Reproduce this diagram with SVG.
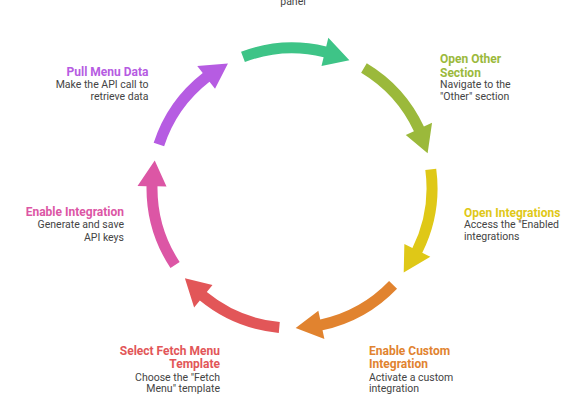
<svg xmlns="http://www.w3.org/2000/svg" xmlns:xlink="http://www.w3.org/1999/xlink" width="588" height="400" viewBox="0 0 588 400">
<style>
text{font-family:Roboto,"Liberation Sans",sans-serif}
.t{font-size:12px;font-weight:bold}
.d{font-size:10.5px;fill:#444444}
.s{text-anchor:start}
.e{text-anchor:end}
.m{text-anchor:middle}
</style>
<defs>
<path id="arw" d="M145.5,0 A145.5,145.5 0 0 1 120.49,81.57 L127.94,86.61 L99.51,98.48 L103.93,70.36 L111.38,75.40 A134.5,134.5 0 0 0 134.5,0 Z"/>
</defs>
<rect width="588" height="400" fill="#ffffff"/>
<g id="step-green">
<use xlink:href="#arw" href="#arw" fill="#3EC487" transform="translate(292,188) rotate(249.5)"/>
<text class="d m" x="293" y="4.5">panel</text>
</g>
<g id="step-open-other">
<use xlink:href="#arw" href="#arw" fill="#9BB93B" transform="translate(292,188) rotate(300.93)"/>
<text class="t s" fill="#9BB93B" x="440" y="62.7">Open Other</text>
<text class="t s" fill="#9BB93B" x="440" y="76.5">Section</text>
<text class="d s" x="440" y="88.3">Navigate to the</text>
<text class="d s" x="440" y="100">"Other" section</text>
</g>
<g id="step-open-integrations">
<use xlink:href="#arw" href="#arw" fill="#DFC817" transform="translate(292,188) rotate(352.36)"/>
<text class="t s" fill="#DFC817" x="464" y="216.7">Open Integrations</text>
<text class="d s" x="464" y="228.3">Access the "Enabled</text>
<text class="d s" x="464" y="240">integrations</text>
</g>
<g id="step-enable-custom">
<use xlink:href="#arw" href="#arw" fill="#E1832F" transform="translate(292,188) rotate(43.79)"/>
<text class="t s" fill="#E1832F" x="369" y="354.8">Enable Custom</text>
<text class="t s" fill="#E1832F" x="369" y="368.4">Integration</text>
<text class="d s" x="369" y="380.6">Activate a custom</text>
<text class="d s" x="369" y="392.3">integration</text>
</g>
<g id="step-select-template">
<use xlink:href="#arw" href="#arw" fill="#E25658" transform="translate(292,188) rotate(95.21)"/>
<text class="t e" fill="#E25658" x="220" y="354.6">Select Fetch Menu</text>
<text class="t e" fill="#E25658" x="220" y="368.3">Template</text>
<text class="d e" x="220" y="380.6">Choose the "Fetch</text>
<text class="d e" x="220" y="392.3">Menu" template</text>
</g>
<g id="step-enable-integration">
<use xlink:href="#arw" href="#arw" fill="#DC56A5" transform="translate(292,188) rotate(146.64)"/>
<text class="t e" fill="#DC56A5" x="124" y="215.7">Enable Integration</text>
<text class="d e" x="124" y="228.3">Generate and save</text>
<text class="d e" x="124" y="240.5">API keys</text>
</g>
<g id="step-pull-menu">
<use xlink:href="#arw" href="#arw" fill="#B65CE2" transform="translate(292,188) rotate(198.07)"/>
<text class="t e" fill="#B65CE2" x="148.5" y="76">Pull Menu Data</text>
<text class="d e" x="148.5" y="88.3">Make the API call to</text>
<text class="d e" x="148.5" y="100">retrieve data</text>
</g>
<g id="connectors"></g>
</svg>
